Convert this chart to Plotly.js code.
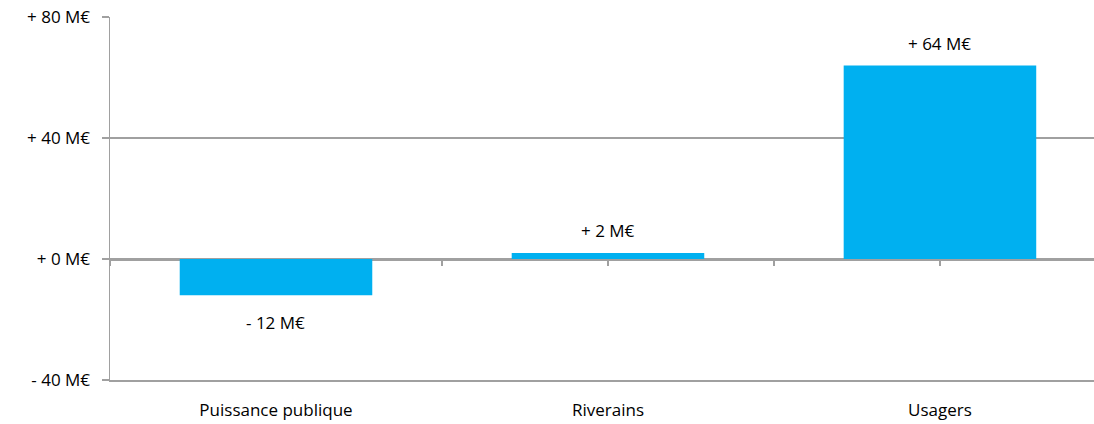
<!DOCTYPE html>
<html><head><meta charset="utf-8">
<script src="https://cdn.plot.ly/plotly-3.0.1.min.js"></script>
<style>html,body{margin:0;padding:0;background:#fff}#chart{width:1094px;height:424px}</style>
</head><body><div id="chart"></div>
<script>
const categories = ["Puissance publique", "Riverains", "Usagers"];
const values = [-12, 2, 64];
const valueLabels = ["- 12 M€", "+ 2 M€", "+ 64 M€"];
const yTickVals = [-40, 0, 40, 80];
const yTickText = ["- 40 M€", "+ 0 M€", "+ 40 M€", "+ 80 M€"];

const font = {family: "Open Sans, Noto Sans, sans-serif", size: 17, color: "#000"};
const idx = categories.map((c, i) => i);

const trace = {
  type: "bar", x: idx, y: values, width: 0.58,
  marker: {color: "#00B0F0"}, hoverinfo: "none", showlegend: false
};
const tickHelper = {
  type: "scatter", mode: "none", x: idx, y: values, xaxis: "x2", yaxis: "y",
  hoverinfo: "none", showlegend: false
};

const annotations = values.map((v, i) => ({
  x: i, y: v, xref: "x", yref: "y", text: valueLabels[i], showarrow: false,
  yshift: v >= 0 ? 22 : -27, font: font
}));

const halfTicks = [];
for (let k = -0.5; k <= 2.5; k += 0.5) halfTicks.push(k);

const grey = "#A0A0A0";
const layout = {
  width: 1094, height: 424,
  margin: {l: 110, r: 0, t: 17, b: 44, pad: 0},
  paper_bgcolor: "#fff", plot_bgcolor: "#fff",
  font: font,
  xaxis: {
    range: [-0.5, 2.464], tickvals: idx, ticktext: categories,
    showgrid: false, zeroline: false, showline: true, linecolor: grey, linewidth: 1.5,
    ticks: "outside", ticklen: 14, tickcolor: "rgba(0,0,0,0)", tickfont: font, fixedrange: true
  },
  xaxis2: {
    overlaying: "x", anchor: "free", position: 1/3, side: "bottom", layer: "below traces",
    range: [-0.5, 2.464], tickvals: halfTicks, showticklabels: false,
    showgrid: false, zeroline: false, showline: true, linecolor: grey, linewidth: 1.5,
    ticks: "outside", ticklen: 5, tickcolor: grey, tickwidth: 1.5
  },
  yaxis: {
    range: [-40, 80], tickvals: yTickVals, ticktext: yTickText,
    showgrid: true, gridcolor: grey, gridwidth: 1.5, zeroline: false,
    showline: true, linecolor: grey, linewidth: 1.5,
    ticks: "outside", ticklen: 7, tickcolor: grey, tickwidth: 1.5, tickfont: font, ticklabelstandoff: 8
  },
  annotations: annotations
};

Plotly.newPlot("chart", [trace, tickHelper], layout, {staticPlot: true, displayModeBar: false});
</script></body></html>
